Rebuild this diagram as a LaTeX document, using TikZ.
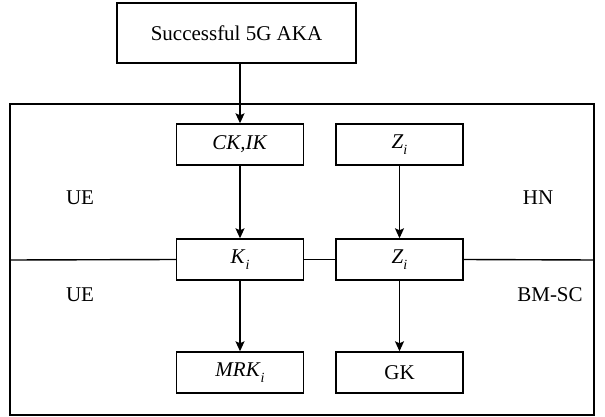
\documentclass[tikz,border=0pt]{standalone}
\usepackage{fontspec}
\setmainfont{Liberation Serif}
\usetikzlibrary{arrows.meta}
\newcommand{\lowsub}[1]{\raisebox{-0.28em}{\fontsize{14}{16}\selectfont\itshape #1}}
\begin{document}
\begin{tikzpicture}[x=1pt,y=-1pt,
  every node/.style={font=\fontsize{21}{25}\selectfont, inner sep=0pt},
  box/.style={draw, line width=1.4pt, rectangle, minimum width=127pt, minimum height=41pt},
  line/.style={line width=1.4pt},
  arr/.style={line width=1.4pt, -{Stealth[length=10pt,width=9pt,inset=2pt]}}]
  \useasboundingbox (0,0) rectangle (605,417);
  % outer frame
  \draw[line] (10,104) rectangle (594,415);
  \coordinate (fl) at (10,260);
  \coordinate (fr) at (594,260);
  % boxes
  \node[box, minimum width=239pt, minimum height=60pt] (aka) at (236.5,33) {Successful 5G AKA};
  \node[box] (ck) at (240,144.5) {\textit{CK,IK}};
  \node[box] (z1) at (399.5,144.5) {\textit{Z}\lowsub{i}};
  \node[box] (k)  at (240,259.5) {\textit{K}\lowsub{i}};
  \node[box] (z2) at (399.5,259.5) {\textit{Z}\lowsub{i}};
  \node[box] (mrk) at (240,372.5) {\textit{MRK}\lowsub{i}};
  \node[box] (gk) at (399.5,372.5) {GK};
  % domain labels
  \node (ue1) at (80,198) {UE};
  \node (hn) at (538,198) {HN};
  \node (ue2) at (80,295) {UE};
  \node (bmsc) at (550,295) {BM-SC};
  % divider between domains
  \draw[line] (fl) -- (k.west);
  \draw[line] (k.east) -- (z2.west);
  \draw[line] (z2.east) -- (fr);
  % key derivation flow
  \draw[arr] (aka.south -| ck) -- (ck.north);
  \draw[arr] (ck) -- (k);
  \draw[arr] (z1) -- (z2);
  \draw[arr] (k) -- (mrk);
  \draw[arr] (z2) -- (gk);
\end{tikzpicture}
\end{document}
